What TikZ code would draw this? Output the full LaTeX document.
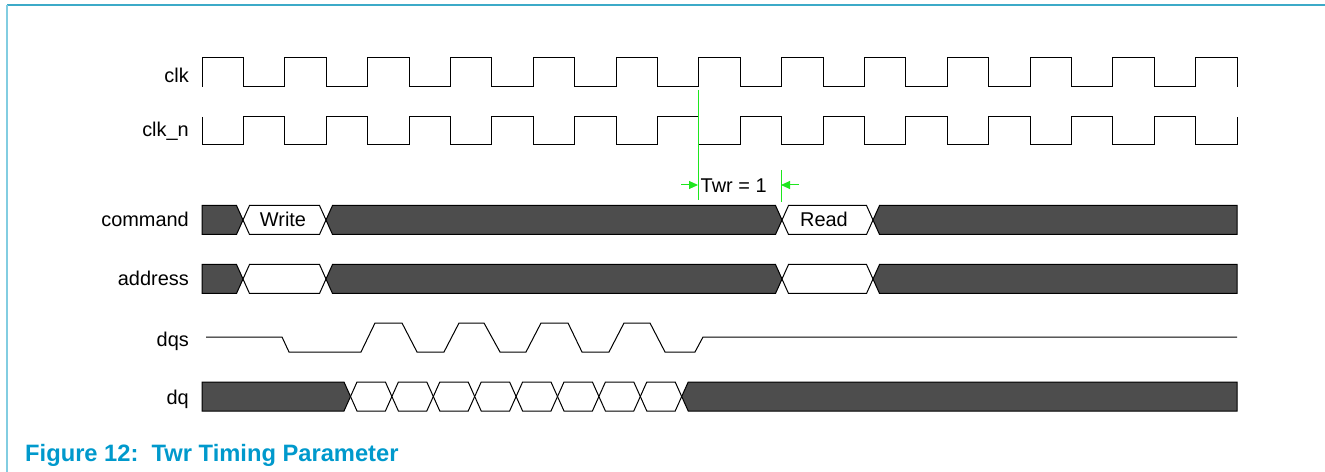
\documentclass[tikz,border=0pt]{standalone}
\usepackage{fontspec}
\setmainfont{Liberation Sans}
\usetikzlibrary{arrows.meta}
\definecolor{busdark}{HTML}{4D4D4D}
\definecolor{twrgreen}{RGB}{30,230,30}
\definecolor{captionblue}{RGB}{0,153,204}
\definecolor{frametop}{RGB}{60,170,200}
\definecolor{frameleft}{RGB}{130,205,225}
% bus segments: style, x-start, x-end, y-centre
\newcommand{\hexseg}[4]{\draw[#1] (#2,#4) -- (#2+6.5,#4-14.5) -- (#3-6.5,#4-14.5) -- (#3,#4) -- (#3-6.5,#4+14.5) -- (#2+6.5,#4+14.5) -- cycle;}
\newcommand{\headseg}[3]{\draw[#1] (202,#3-14.5) -- (#2-6.5,#3-14.5) -- (#2,#3) -- (#2-6.5,#3+14.5) -- (202,#3+14.5) -- cycle;}
\newcommand{\tailseg}[3]{\draw[#1] (#2,#3) -- (#2+6.5,#3-14.5) -- (1237,#3-14.5) -- (1237,#3+14.5) -- (#2+6.5,#3+14.5) -- cycle;}
\begin{document}
\begin{tikzpicture}[x=1bp,y=-1bp,
  wave/.style={draw=black, line width=1bp},
  darkseg/.style={fill=busdark, draw=black, line width=1bp},
  whiteseg/.style={fill=white, draw=black, line width=1bp},
  siglabel/.style={anchor=base east, inner sep=0pt, font=\fontsize{20}{24}\selectfont},
  buslabel/.style={anchor=base, inner sep=0pt, font=\fontsize{20}{24}\selectfont},
  marker/.style={draw=twrgreen, line width=1bp},
  dimarrow/.style={draw=twrgreen, fill=twrgreen, line width=1bp, -{Triangle[length=9bp,width=8bp]}},
  captionstyle/.style={anchor=base west, inner sep=0pt, text=captionblue, font=\fontsize{23.8}{28}\selectfont\bfseries}]
\useasboundingbox (0,0) rectangle (1325,472);
% frame
\draw[frametop, line width=2bp] (7,5) -- (1325,5);
\draw[frameleft, line width=2.5bp] (7,5) -- (7,472);
% labels
\node[siglabel] (lclk) at (189,83) {clk};
\node[siglabel] (lclkn) at (189,137) {clk\_n};
\node[siglabel] (lcmd) at (189,227) {command};
\node[siglabel] (laddr) at (189,286) {address};
\node[siglabel] (ldqs) at (189,346) {dqs};
\node[siglabel] (ldq) at (189,404) {dq};
% clocks
\draw[wave] (202,87) foreach \k in {1,...,12} { -- ++(0,-29) -- ++(41.4,0) -- ++(0,29) -- ++(41.4,0) } -- ++(0,-29) -- ++(41.4,0) -- ++(0,29);
\draw[wave] (202,117) foreach \k in {1,...,12} { -- ++(0,28) -- ++(41.4,0) -- ++(0,-28) -- ++(41.4,0) } -- ++(0,28) -- ++(41.4,0) -- ++(0,-28);
% command bus
\headseg{darkseg}{243}{220}
\hexseg{whiteseg}{243}{326}{220}
\hexseg{darkseg}{326}{782}{220}
\hexseg{whiteseg}{782}{873}{220}
\tailseg{darkseg}{873}{220}
\node[buslabel] (write) at (283,227) {Write};
\node[buslabel] (read) at (824,227) {Read};
% address bus
\headseg{darkseg}{243}{279}
\hexseg{whiteseg}{243}{326}{279}
\hexseg{darkseg}{326}{782}{279}
\hexseg{whiteseg}{782}{873}{279}
\tailseg{darkseg}{873}{279}
% dqs
\draw[wave] (206,337) -- (282,337) -- (289,352) -- (361,352) -- (375,323) -- (402,323) -- (417,352) -- (444,352) -- (459,323) -- (484,323) -- (500,352) -- (526,352) -- (541,323) -- (568,323) -- (582,352) -- (609,352) -- (624,323) -- (650,323) -- (665,352) -- (695,352) -- (703,337) -- (1237,337);
% dq bus
\headseg{darkseg}{350.5}{396.5}
\foreach \k in {0,...,7} {
  \pgfmathsetmacro\xa{350.5+41.4*\k}
  \pgfmathsetmacro\xb{\xa+41.4}
  \hexseg{whiteseg}{\xa}{\xb}{396.5}
}
\tailseg{darkseg}{681.7}{396.5}
% Twr markers
\coordinate (m1top) at (698,90);
\coordinate (m1bot) at (698,200);
\coordinate (m2top) at (781,170);
\coordinate (m2bot) at (781,202);
\draw[marker] (m1top) -- (m1bot);
\draw[marker] (m2top) -- (m2bot);
\coordinate (a1s) at (681,185);
\coordinate (a1e) at (698,185);
\coordinate (a2s) at (799,185);
\coordinate (a2e) at (781,185);
\draw[dimarrow] (a1s) -- (a1e);
\draw[dimarrow] (a2s) -- (a2e);
\node[anchor=base west, inner sep=0pt, font=\fontsize{20}{24}\selectfont] (twr) at (700.5,193) {Twr = 1};
% caption
\node[captionstyle] (cap) at (25,461) {Figure 12:\ \ Twr Timing Parameter};
\end{tikzpicture}
\end{document}
